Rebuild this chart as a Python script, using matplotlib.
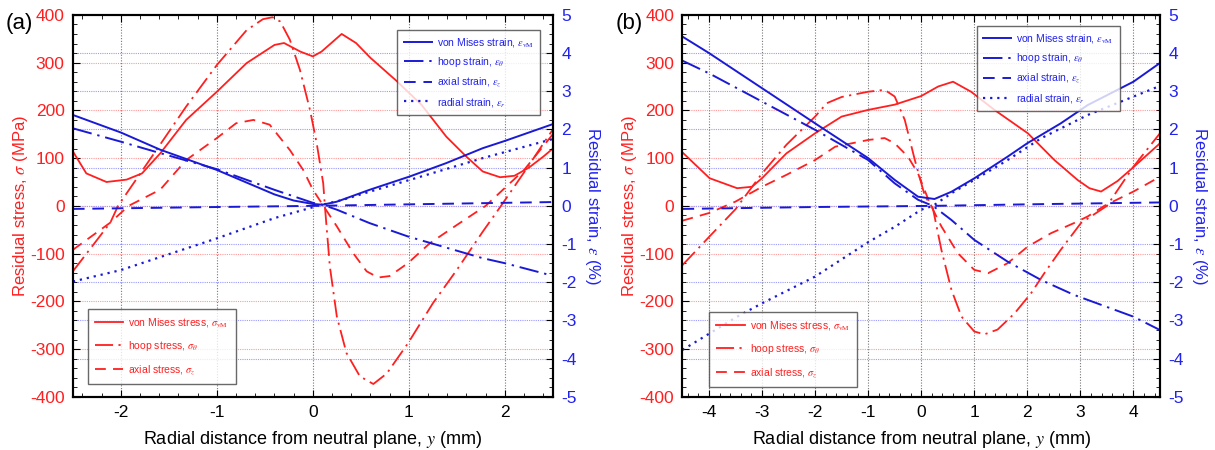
import matplotlib
matplotlib.use('Agg')
import matplotlib.pyplot as plt
from matplotlib.ticker import MultipleLocator

plt.rcParams['font.family'] = ['Liberation Sans', 'DejaVu Sans']
plt.rcParams['mathtext.fontset'] = 'stix'
plt.rcParams['axes.unicode_minus'] = False

# ---- panel (a) data: stress (MPa) ----
a_vm_x = [-2.5, -2.36, -2.15, -1.94, -1.78, -1.59, -1.32, -1.0, -0.69, -0.40, -0.30, -0.13, 0.0, 0.09,
          0.3, 0.45, 0.6, 0.87, 1.13, 1.39, 1.6, 1.77, 1.95, 2.1, 2.25, 2.4, 2.5]
a_vm_y = [114, 68, 50, 55, 68, 110, 180, 239, 299, 337, 341, 323, 313, 323,
          360, 341, 310, 262, 212, 145, 103, 72, 60, 63, 80, 103, 120]
a_hoop_x = [-2.5, -2.11, -2.03, -1.63, -1.32, -1.0, -0.69, -0.52, -0.42, -0.34, -0.24, -0.135, -0.03, 0.04,
            0.108, 0.125, 0.177, 0.25, 0.35, 0.49, 0.63, 0.77, 0.99, 1.25, 1.5, 1.77, 1.96, 2.2, 2.5]
a_hoop_y = [-137, -35, 0, 117, 208, 295, 368, 391, 395, 386, 348, 285, 201, 131,
            47, 0, -127, -232, -308, -357, -373, -351, -288, -204, -134, -54, 0, 70, 160]
a_ax_x = [-2.5, -2.11, -1.92, -1.59, -1.32, -1.0, -0.8, -0.62, -0.45, -0.24, -0.10, 0.0, 0.11, 0.25,
          0.42, 0.56, 0.68, 0.8, 0.99, 1.22, 1.5, 1.8, 2.2, 2.5]
a_ax_y = [-92, -35, 0, 34, 96, 142, 173, 180, 170, 117, 75, 34, 0, -43,
          -99, -137, -150, -147, -120, -78, -40, 0, 75, 150]
# ---- panel (a) data: strain (%) ----
a_evm_x = [-2.5, -2.0, -1.59, -1.0, -0.4, -0.2, 0.0, 0.1, 0.25, 0.59, 1.01, 1.39, 1.77, 2.0, 2.5]
a_evm_y = [2.38, 1.92, 1.47, 0.94, 0.30, 0.14, 0.05, 0.03, 0.11, 0.42, 0.77, 1.12, 1.51, 1.70, 2.14]
a_ehoop_x = [-2.5, -2.0, -1.59, -1.0, -0.4, 0.0, 0.1, 0.25, 0.59, 0.99, 1.29, 1.77, 2.0, 2.5]
a_ehoop_y = [2.03, 1.68, 1.38, 0.96, 0.42, 0.08, 0.03, -0.10, -0.45, -0.80, -1.02, -1.37, -1.5, -1.83]
a_eax_x = [-2.5, -1.0, 0.0, 1.0, 2.5]
a_eax_y = [-0.08, -0.03, 0.0, 0.04, 0.1]
a_erad_x = [-2.5, -2.0, -1.0, -0.4, 0.05, 0.3, 0.59, 1.01, 1.77, 2.5]
a_erad_y = [-1.98, -1.68, -0.85, -0.32, 0.0, 0.15, 0.37, 0.68, 1.25, 1.75]

# ---- panel (b) data: stress (MPa) ----
b_vm_x = [-4.5, -3.99, -3.47, -3.19, -3.0, -2.54, -2.0, -1.5, -1.0, -0.5, 0.0, 0.32, 0.6, 0.94,
          1.38, 2.01, 2.51, 2.95, 3.17, 3.39, 3.7, 3.98, 4.5]
b_vm_y = [112, 58, 37, 40, 58, 110, 152, 187, 201, 212, 230, 250, 260, 239,
          201, 152, 96, 54, 37, 30, 52, 79, 131]
b_hoop_x = [-4.5, -3.99, -3.5, -3.0, -2.54, -2.0, -1.78, -1.5, -1.0, -0.69, -0.5, -0.31, -0.12, 0.07,
            0.22, 0.38, 0.57, 0.76, 1.0, 1.19, 1.44, 1.76, 2.07, 2.32, 2.63, 3.01, 3.5, 4.0, 4.5]
b_hoop_y = [-124, -64, -7, 68, 128, 187, 215, 228, 239, 243, 229, 180, 96, 20,
            -5, -92, -176, -232, -263, -269, -259, -225, -183, -141, -92, -36, 0, 82, 152]
b_ax_x = [-4.5, -4.0, -3.5, -3.0, -2.54, -2.0, -1.62, -1.0, -0.69, -0.5, -0.25, -0.06, 0.16, 0.38,
          0.69, 1.0, 1.26, 1.63, 2.01, 2.45, 2.88, 3.14, 3.45, 4.0, 4.5]
b_ax_y = [-31, -15, 9, 40, 65, 96, 124, 138, 142, 131, 103, 68, 6, -43,
          -99, -134, -141, -120, -85, -57, -36, -22, 0, 30, 61]
# ---- panel (b) data: strain (%) ----
b_evm_x = [-4.5, -4.0, -3.0, -2.0, -1.0, -0.5, -0.06, 0.25, 0.57, 1.0, 1.63, 2.0, 2.63, 3.14, 4.0, 4.5]
b_evm_y = [4.43, 4.0, 3.08, 2.16, 1.25, 0.68, 0.24, 0.18, 0.37, 0.72, 1.29, 1.64, 2.16, 2.64, 3.25, 3.74]
b_ehoop_x = [-4.5, -4.0, -3.0, -2.0, -1.0, -0.5, -0.06, 0.22, 0.57, 1.0, 1.63, 2.26, 2.88, 4.0, 4.5]
b_ehoop_y = [3.80, 3.47, 2.73, 1.99, 1.20, 0.59, 0.16, 0.0, -0.37, -0.89, -1.46, -1.94, -2.33, -2.9, -3.25]
b_eax_x = [-4.5, -2.0, 0.22, 2.0, 4.5]
b_eax_y = [-0.08, -0.03, 0.0, 0.04, 0.09]
b_erad_x = [-4.5, -3.47, -3.0, -2.0, -1.0, -0.5, 0.0, 0.22, 0.57, 1.0, 1.63, 2.26, 3.14, 4.0, 4.5]
b_erad_y = [-3.77, -2.9, -2.55, -1.85, -0.95, -0.55, -0.1, 0.0, 0.33, 0.68, 1.2, 1.77, 2.38, 2.86, 3.14]

RED = '#ff1f1f'
BLUE = '#1a1ad6'
BLUE_TXT = '#2222ee'
HOOP = (0, (10, 3, 1.2, 3))
AXIAL = (0, (6, 4))
RADIAL = (0, (1, 2.2))

stress_labels = [r'von Mises stress, $\sigma_{\rm vM}$', r'hoop stress, $\sigma_{\theta}$',
                 r'axial stress, $\sigma_{z}$']
strain_labels = [r'von Mises strain, $\varepsilon_{\rm vM}$', r'hoop strain, $\varepsilon_{\theta}$',
                 r'axial strain, $\varepsilon_{z}$', r'radial strain, $\varepsilon_{r}$']


def draw_panel(rect, xlim, stress, strain, tag, blue_anchor, red_anchor):
    ax = fig.add_axes(rect)
    ax2 = ax.twinx()
    ax.set_xlim(xlim)
    ax.set_ylim(-400, 400)
    ax2.set_ylim(-5, 5)

    # grids: red at stress ticks, blue at strain ticks, grey at x ticks
    for v in range(-300, 400, 100):
        ax.axhline(v, color='#ff9a9a', lw=0.8, ls=(0, (1, 1)), zorder=0)
    for v in range(-4, 5):
        ax.axhline(v * 80, color='#9a9aff', lw=0.8, ls=(0, (1, 1)), zorder=0)
    for v in range(int(xlim[0]), int(xlim[1]) + 1):
        ax.axvline(v, color='#777777', lw=0.8, ls=(0, (1, 1.5)), zorder=0)

    lines_s = []
    for (xs, ys), st in zip(stress, ['-', HOOP, AXIAL]):
        l, = ax.plot(xs, ys, color=RED, ls=st, lw=1.3)
        lines_s.append(l)
    lines_e = []
    for (xs, ys), st in zip(strain, ['-', HOOP, AXIAL, RADIAL]):
        l, = ax2.plot(xs, ys, color=BLUE, ls=st, lw=1.4 if st != RADIAL else 1.6)
        lines_e.append(l)

    ax.xaxis.set_major_locator(MultipleLocator(1))
    ax.xaxis.set_minor_locator(MultipleLocator(0.2))
    ax.yaxis.set_major_locator(MultipleLocator(100))
    ax.yaxis.set_minor_locator(MultipleLocator(20))
    ax2.yaxis.set_major_locator(MultipleLocator(1))
    ax2.yaxis.set_minor_locator(MultipleLocator(0.25))
    ax.tick_params(which='both', direction='in', top=True, right=False)
    ax.tick_params(which='major', length=5, labelsize=12.5, pad=6)
    ax.tick_params(which='minor', length=3)
    ax.tick_params(axis='y', labelcolor=RED)
    ax2.tick_params(which='both', direction='in')
    ax2.tick_params(which='major', length=5, labelsize=12.5, labelcolor=BLUE_TXT, pad=6)
    ax2.tick_params(which='minor', length=3)
    for a in (ax, ax2):
        for s in a.spines.values():
            s.set_linewidth(1.5)

    ax.set_xlabel(r'Radial distance from neutral plane, $y$ (mm)', fontsize=13, labelpad=6)
    ax.set_ylabel(r'Residual stress, $\sigma$ (MPa)', fontsize=12, color=RED, labelpad=0)
    ax2.set_ylabel(r'Residual strain, $\varepsilon$ (%)', fontsize=12, color=BLUE_TXT,
                   rotation=270, labelpad=18)

    leg1 = ax2.legend(lines_e, strain_labels, loc='upper right', bbox_to_anchor=blue_anchor,
                      fontsize=7.5, frameon=True, fancybox=False, edgecolor='#444444',
                      handlelength=2.7, handletextpad=0.5, labelspacing=0.6, borderpad=0.6)
    for t in leg1.get_texts():
        t.set_color(BLUE_TXT)
    leg1.get_frame().set_linewidth(1.0)
    leg1.set_zorder(20)
    ax2.add_artist(leg1)
    leg2 = ax2.legend(lines_s, stress_labels, loc='lower left', bbox_to_anchor=red_anchor,
                      fontsize=7.5, frameon=True, fancybox=False, edgecolor='#444444',
                      handlelength=2.7, handletextpad=0.5, labelspacing=0.95, borderpad=0.7)
    for t in leg2.get_texts():
        t.set_color(RED)
    leg2.get_frame().set_linewidth(1.0)
    leg2.set_zorder(20)

    fig.text(rect[0] - 0.055, rect[1] + rect[3] - 0.02, tag, fontsize=16, va='center', ha='left')
    return ax, ax2


fig = plt.figure(figsize=(12.15, 4.5), dpi=100)

draw_panel([0.060, 0.118, 0.395, 0.849], (-2.5, 2.5),
           [(a_vm_x, a_vm_y), (a_hoop_x, a_hoop_y), (a_ax_x, a_ax_y)],
           [(a_evm_x, a_evm_y), (a_ehoop_x, a_ehoop_y), (a_eax_x, a_eax_y), (a_erad_x, a_erad_y)],
           '(a)', (0.985, 0.975), (0.02, 0.02))
draw_panel([0.5617, 0.118, 0.393, 0.849], (-4.5, 4.5),
           [(b_vm_x, b_vm_y), (b_hoop_x, b_hoop_y), (b_ax_x, b_ax_y)],
           [(b_evm_x, b_evm_y), (b_ehoop_x, b_ehoop_y), (b_eax_x, b_eax_y), (b_erad_x, b_erad_y)],
           '(b)', (0.927, 0.985), (0.045, 0.012))

fig.savefig('out.png', dpi=100)
